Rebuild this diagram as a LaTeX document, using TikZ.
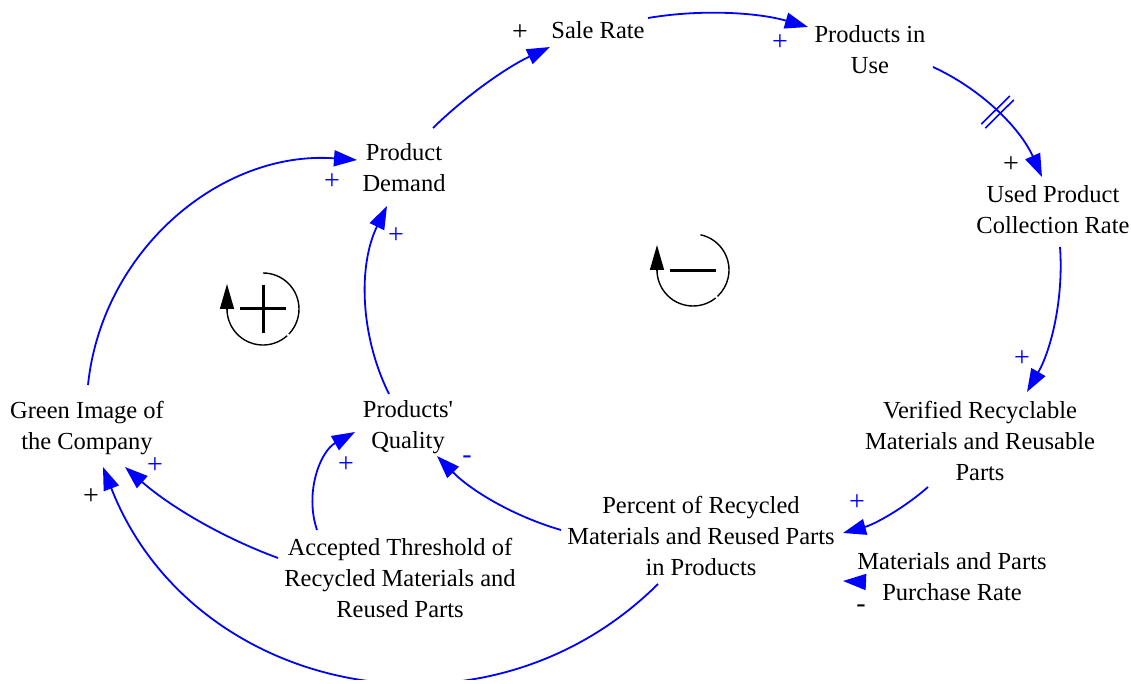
\documentclass[tikz,border=0pt]{standalone}
\usepackage{fontspec}
\setmainfont{Liberation Serif}
\usetikzlibrary{arrows.meta,calc,decorations.markings}
\definecolor{vblue}{RGB}{0,0,255}
\begin{document}
\begin{tikzpicture}[x=0.5pt,y=-0.5pt,
  lbl/.style={font=\fontsize{12.25pt}{15.5pt}\selectfont, align=center, inner sep=0pt},
  pol/.style={font=\fontsize{14pt}{16pt}\selectfont, inner sep=0pt},
  bpol/.style={pol, text=vblue},
  link/.style={draw=vblue, line width=0.9pt, -{Triangle[length=11.5pt,width=8pt]}},
  loopline/.style={draw=black, line width=0.7pt},
  looptip/.style={loopline, -{Triangle[length=12.5pt,width=7pt]}},
  delaymark/.style={postaction={decorate}, decoration={markings,
     mark=at position 0.5 with {\draw[vblue, line width=0.8pt, -] (-1.4pt,-10pt) -- (-1.4pt,10pt) (1.4pt,-10pt) -- (1.4pt,10pt);}}}
]
\useasboundingbox (0,0) rectangle (1131,684);
\clip (0,0) rectangle (1131,679);

% variables
\node[lbl] (sr)  at (598,30)  {Sale Rate};
\node[lbl] (piu) at (870,50)  {Products in\\Use};
\node[lbl] (upc) at (1053,210) {Used Product\\Collection Rate};
\node[lbl] (vr)  at (980,441) {Verified Recyclable\\Materials and Reusable\\Parts};
\node[lbl] (pct) at (701,536) {Percent of Recycled\\Materials and Reused Parts\\in Products};
\node[lbl] (mpr) at (952,577) {Materials and Parts\\Purchase Rate};
\node[lbl] (at)  at (400,578) {Accepted Threshold of\\Recycled Materials and\\Reused Parts};
\node[lbl] (pq)  at (408,427) {Products\textquotesingle\\Quality};
\node[lbl] (gi)  at (87,428)  {Green Image of\\the Company};
\node[lbl] (pd)  at (404,168) {Product\\Demand};

% causal links
\draw[link] ($(pd)+(29,-40)$) .. controls +(33.6,-32.9) and +(-42.6,19.9) .. ($(sr)+(-48,17)$);
\draw[link] ($(sr)+(50,-12)$) .. controls +(52.2,-8.9) and +(-50.9,-14.7) .. ($(piu)+(-62,-23)$);
\draw[link,delaymark] ($(piu)+(63,17)$) .. controls +(48.5,22.2) and +(-21.7,-48.7) .. ($(upc)+(-11,-33)$);
\draw[link] ($(upc)+(7,37)$) .. controls +(3.7,49.9) and +(24.8,-43.4) .. ($(vr)+(47,-49)$);
\draw[link] ($(vr)+(-52,46)$) .. controls +(-24.4,21.5) and +(31.3,-8.6) .. ($(pct)+(142,-3)$);
\draw[link] ($(mpr)+(-86,5)$) -- ($(pct)+(142,45)$);
\draw[link] ($(pct)+(-140,-6)$) .. controls +(-47,-13.6) and +(34.3,34.9) .. ($(pq)+(29,29)$);
\draw[link] ($(at)+(-83,-48)$) .. controls +(-12.7,-37.6) and +(-34.7,19.3) .. ($(pq)+(-53,5)$);
\draw[link] ($(at)+(-122,-20)$) .. controls +(-56,-20.6) and +(44.9,39.4) .. ($(gi)+(38,39)$);
\draw[link] ($(pct)+(-43,48)$) .. controls +(-173,172) and +(89,228) .. ($(gi)+(16,39)$);
\draw[link] ($(pq)+(-19,-33)$) .. controls +(-29.2,-58.9) and +(-28.9,59.0) .. ($(pd)+(-17,38)$);
\draw[link] ($(gi)+(1,-43)$) .. controls +(14.1,-135.3) and +(-135.6,-10.0) .. ($(pd)+(-47,-8)$);

% polarities
\node[pol]  (s1)  at (520,33)  {+};
\node[bpol] (s2)  at (780,43)  {+};
\node[pol]  (s3)  at (1011,165) {+};
\node[bpol] (s4)  at (1022,359) {+};
\node[bpol] (s5)  at (857,503) {+};
\node[pol]  (s6)  at (861,609) {-};
\node[bpol] (s7)  at (467,460) {-};
\node[bpol] (s8)  at (346,465) {+};
\node[bpol] (s9)  at (155,466) {+};
\node[pol]  (s10) at (91,497)  {+};
\node[bpol] (s11) at (332,182) {+};
\node[bpol] (s12) at (396,236) {+};

% loop symbols
\coordinate (lr) at (263,309);
\draw[loopline] ($(lr)+(0,-36)$) arc[start angle=-90, end angle=44, radius=36];
\draw[loopline] ($(lr)+(48:36)$) arc[start angle=48, end angle=180, radius=36];
\draw[looptip] ($(lr)+(-36,0)$) -- +(0,-25);
\draw[line width=1.5pt] ($(lr)+(-23,0)$) -- +(46,0) ($(lr)+(0,-24)$) -- +(0,48);

\coordinate (lb) at (693,270);
\draw[loopline] ($(lb)+(-78:36)$) arc[start angle=-78, end angle=47, radius=36];
\draw[loopline] ($(lb)+(51:36)$) arc[start angle=51, end angle=180, radius=36];
\draw[looptip] ($(lb)+(-36,0)$) -- +(0,-25);
\draw[line width=1.5pt] ($(lb)+(-23,1)$) -- +(46,0);
\end{tikzpicture}
\end{document}
